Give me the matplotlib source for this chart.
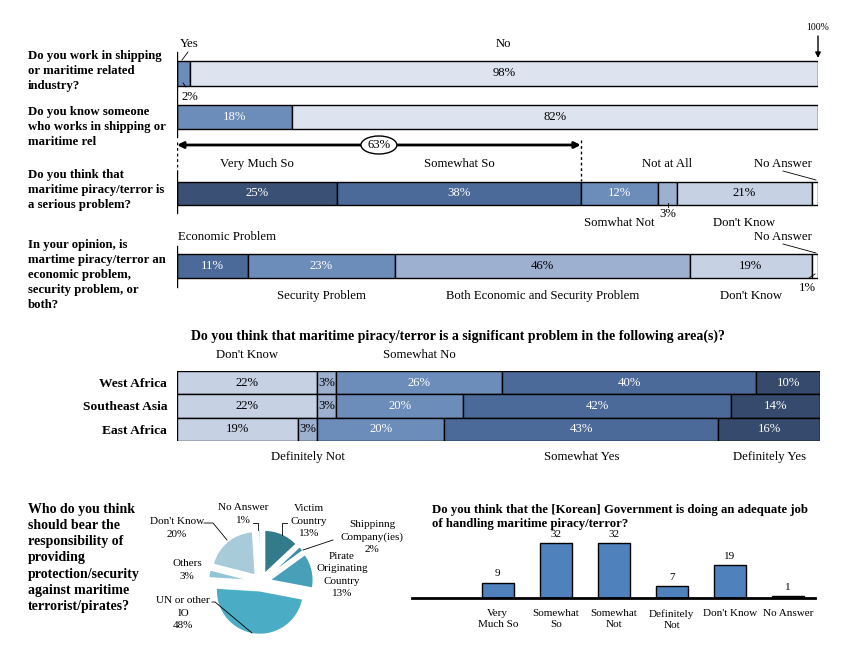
import matplotlib
matplotlib.use("Agg")
import matplotlib.pyplot as plt
from matplotlib.patches import Ellipse
from matplotlib.lines import Line2D
import numpy as np

plt.rcParams['font.family'] = ['Liberation Serif', 'DejaVu Serif']

W, H = 865, 666

# --- data ---
q1_labels = ["Yes", "No"]
q1_values = [2, 98]
q2_values = [18, 82]
q3_labels = ["Very Much So", "Somewhat So", "Somwhat Not", "Not at All", "Don't Know", "No Answer"]
q3_values = [25, 38, 12, 3, 21, 1]
q4_labels = ["Economic Problem", "Security Problem", "Both Economic and Security Problem",
             "Don't Know", "No Answer"]
q4_values = [11, 23, 46, 19, 1]

areas = ["West Africa", "Southeast Asia", "East Africa"]
area_cats = ["Don't Know", "Definitely Not", "Somewhat No", "Somewhat Yes", "Definitely Yes"]
dont_know = [22, 22, 19]
definitely_not = [3, 3, 3]
somewhat_no = [26, 20, 20]
somewhat_yes = [40, 42, 43]
definitely_yes = [10, 14, 16]

pie_labels = ["Victim\nCountry", "Shippinng\nCompany(ies)", "Pirate\nOriginating\nCountry",
              "UN or other\nIO", "Others", "Don't Know", "No Answer"]
pie_values = [13, 2, 13, 48, 3, 20, 1]

gov_labels = ["Very\nMuch So", "Somewhat\nSo", "Somewhat\nNot", "Definitely\nNot",
              "Don't Know", "No Answer"]
gov_values = [9, 32, 32, 7, 19, 1]

# colours
DARKEST = '#354a6c'
DARK = '#3a5075'
MID = '#4b6a9a'
MED = '#6c8cba'
LIGHT = '#9db0d0'
PALE = '#c6d1e4'
VPALE = '#dee4ef'
WHITE_TXT = {DARKEST, DARK, MID, MED}
FS = 9.2  # label font size

fig = plt.figure(figsize=(W / 100, H / 100), dpi=100)


def px_axes(x0, y0, x1, y1):
    return fig.add_axes([x0 / W, 1 - y1 / H, (x1 - x0) / W, (y1 - y0) / H])


def ftext(x, y, s, **kw):
    kw.setdefault('ha', 'center')
    kw.setdefault('va', 'center')
    kw.setdefault('fontsize', FS)
    fig.text(x / W, 1 - y / H, s, **kw)


def fline(pts, **kw):
    xs = [p[0] / W for p in pts]
    ys = [1 - p[1] / H for p in pts]
    fig.add_artist(Line2D(xs, ys, color='black', lw=kw.pop('lw', 0.6), **kw))


def lab(ax, x, y, s, **kw):
    kw.setdefault('ha', 'center')
    ax.text(x, y, s, va='center', fontsize=FS, **kw)


def stacked(ax, y, vals, colors, h, inside):
    vals = np.asarray(vals, dtype=float)
    left = np.concatenate([[0], np.cumsum(vals)[:-1]])
    ax.barh(y, vals, left=left, height=h, color=colors, edgecolor='black', linewidth=1)
    mids = left + vals / 2
    for m, v, c, show in zip(mids, vals, colors, inside):
        if show:
            ax.text(m, y, "%d%%" % v, ha='center', va='center', fontsize=FS,
                    color='white' if c in WHITE_TXT else 'black')
    return mids


qkw = dict(ha='left', va='center', fontsize=9.2, fontweight='bold', linespacing=1.36)

# ---------------- top four questions ----------------
ax = px_axes(177, 0, 818, 310)
ax.set_xlim(0, 100)
ax.set_ylim(310, 0)
ax.axis('off')

m1 = stacked(ax, 73.5, q1_values, [MED, VPALE], 25, [False, True])
m2 = stacked(ax, 117, q2_values, [MED, VPALE], 24, [True, True])
m3 = stacked(ax, 193, q3_values, [DARK, MID, MED, LIGHT, PALE, 'white'], 23,
             [v >= 10 for v in q3_values])
m4 = stacked(ax, 266, q4_values, [MID, MED, LIGHT, PALE, 'white'], 24,
             [v >= 10 for v in q4_values])

# left guide lines
ax.plot([0, 0], [52, 137], color='black', lw=1)
ax.plot([0, 0], [142, 172], color='black', lw=1, ls=(0, (2, 2)))
ax.plot([0, 0], [172, 213], color='black', lw=1)
ax.plot([0, 0], [246, 287], color='black', lw=1)
top2 = q3_values[0] + q3_values[1]
ax.plot([top2, top2], [140, 181], color='black', lw=1, ls=(0, (2, 2)))
ax.annotate('', xy=(0, 145), xytext=(top2, 145),
            arrowprops=dict(arrowstyle='<|-|>', lw=2, color='black', mutation_scale=9,
                            shrinkA=0, shrinkB=0))
ax.add_patch(Ellipse((top2 / 2, 145), 5.6, 18, facecolor='white', edgecolor='black',
                     lw=1, zorder=5))
ax.text(top2 / 2, 145.5, "%d%%" % top2, ha='center', va='center', fontsize=FS, zorder=6)

# 100% marker
ax.text(100, 28, "100%", ha='center', va='center', fontsize=7)
ax.annotate('', xy=(100, 58), xytext=(100, 36),
            arrowprops=dict(arrowstyle='-|>', lw=1, color='black', mutation_scale=8,
                            shrinkA=0, shrinkB=0))

# q1 labels
lab(ax, 1.9, 44, q1_labels[0])
lab(ax, m1[1], 44, q1_labels[1])
lab(ax, 2.0, 97, "%d%%" % q1_values[0])
fline([(182, 60), (188, 52)])
fline([(183, 83), (186, 87)])

# q3 labels
lab(ax, m3[0], 164, q3_labels[0])
lab(ax, m3[1], 164, q3_labels[1])
lab(ax, m3[3], 164, q3_labels[3])
lab(ax, 94.5, 164, q3_labels[5])
lab(ax, m3[2], 223, q3_labels[2])
lab(ax, m3[3], 214, "%d%%" % q3_values[3])
lab(ax, m3[4], 223, q3_labels[4])
fline([(783, 171), (816, 180)])
fline([(668, 203), (668, 207)])

# q4 labels
lab(ax, 0.2, 237, q4_labels[0], ha='left')
lab(ax, 94.5, 237, q4_labels[4])
lab(ax, m4[1], 296, q4_labels[1])
lab(ax, m4[2], 296, q4_labels[2])
lab(ax, m4[3], 296, q4_labels[3])
lab(ax, 98.4, 288, "%d%%" % q4_values[4])
fline([(783, 244), (816, 253)])
fline([(809, 278), (815, 274)])

# questions
ftext(28, 71, "Do you work in shipping\nor maritime related\nindustry?", **qkw)
ftext(28, 127, "Do you know someone\nwho works in shipping or\nmaritime rel", **qkw)
ftext(28, 190, "Do you think that\nmaritime piracy/terror is\na serious problem?", **qkw)
ftext(28, 275, "In your opinion, is\nmartime piracy/terror an\neconomic problem,\n"
               "security problem, or\nboth?", **qkw)

# ---------------- area question ----------------
ftext(458, 336, "Do you think that maritime piracy/terror is a significant problem "
                "in the following area(s)?", fontsize=10, fontweight='bold')
axm = px_axes(177, 371, 820, 441)
axm.set_xlim(0, 101)
axm.set_ylim(2.5, -0.5)
series = [dont_know, definitely_not, somewhat_no, somewhat_yes, definitely_yes]
area_cols = [PALE, LIGHT, MED, MID, DARKEST]
y = np.arange(len(areas))
left = np.zeros(len(areas))
mids = []
for vals, col in zip(series, area_cols):
    vals = np.asarray(vals, dtype=float)
    axm.barh(y, vals, left=left, height=1.0, color=col, edgecolor='black', linewidth=1)
    for yi, l, v in zip(y, left, vals):
        axm.text(l + v / 2, yi, "%d%%" % v, ha='center', va='center', fontsize=FS,
                 color='white' if col in WHITE_TXT else 'black')
    mids.append(left + vals / 2)
    left = left + vals
axm.set_yticks(y)
axm.set_yticklabels(areas, fontsize=9.7, fontweight='bold')
axm.tick_params(axis='y', length=0, pad=7)
axm.set_xticks([])
for s in axm.spines.values():
    s.set_visible(False)
# category labels: top from first row, bottom from last row
for k in (0, 2):
    lab(axm, mids[k][0], -1.2, area_cats[k])
for k in (1, 3, 4):
    lab(axm, mids[k][-1], 3.2, area_cats[k])

# ---------------- pie ----------------
ftext(28, 558, "Who do you think\nshould bear the\nresponsibility of\nproviding\n"
               "protection/security\nagainst maritime\nterrorist/pirates?",
      ha='left', va='center', fontsize=10, fontweight='bold', linespacing=1.32)
axp = px_axes(204, 525, 318, 639)
pie_cols = ['#337a8b', '#3d8ea4', '#47a0b8', '#4bacc6', '#8fc5d5', '#a7cbd9', '#d1e5ed']
axp.pie(pie_values, startangle=90, counterclock=False, colors=pie_cols,
        explode=[0.2] * len(pie_values), radius=1.0,
        wedgeprops=dict(edgecolor='white', linewidth=1.2))
axp.set_xlim(-1.3, 1.3)
axp.set_ylim(-1.3, 1.3)
axp.set_aspect('equal')

pkw = dict(fontsize=8, linespacing=1.45)
ftext(309, 521, "%s\n%d%%" % (pie_labels[0], pie_values[0]), **pkw)
ftext(372, 537, "%s\n%d%%" % (pie_labels[1], pie_values[1]), **pkw)
ftext(342, 575, "%s\n%d%%" % (pie_labels[2], pie_values[2]), **pkw)
ftext(183, 613, "%s\n%d%%" % (pie_labels[3], pie_values[3]), **pkw)
ftext(187, 570, "%s\n%d%%" % (pie_labels[4], pie_values[4]), **pkw)
ftext(177, 528, "%s\n%d%%" % (pie_labels[5], pie_values[5]), **pkw)
ftext(243, 514, "%s\n%d%%" % (pie_labels[6], pie_values[6]), **pkw)
fline([(204, 523), (213, 523), (227, 540)])
fline([(253, 523), (258, 523), (258, 530)])
fline([(287, 523), (282, 523), (282, 535)])
fline([(333, 540), (303, 550)])
fline([(212, 602), (215, 602), (252, 633)])

# ---------------- government bar chart ----------------
ftext(432, 517, "Do you think that the [Korean] Government is doing an adequate job\n"
                "of handling maritime piracy/terror?",
      ha='left', fontsize=9.2, fontweight='bold', linespacing=1.2)
axb = px_axes(412, 537, 815, 598)
xb = np.arange(len(gov_values))
axb.bar(xb, gov_values, width=0.55, color='#4f81bd', edgecolor='black', linewidth=1)
for xi, v in zip(xb, gov_values):
    axb.annotate(str(v), (xi, v), xytext=(0, 3), textcoords='offset points',
                 ha='center', va='bottom', fontsize=8)
axb.set_xlim(-1.48, 5.47)
axb.set_ylim(0, 35.5)
axb.set_xticks(xb)
axb.set_xticklabels(gov_labels, fontsize=8, linespacing=1.3)
axb.tick_params(axis='x', length=0, pad=8)
axb.set_yticks([])
for s in ('top', 'left', 'right'):
    axb.spines[s].set_visible(False)
axb.spines['bottom'].set_linewidth(2)

fig.savefig("out.png", dpi=100, facecolor='white')
